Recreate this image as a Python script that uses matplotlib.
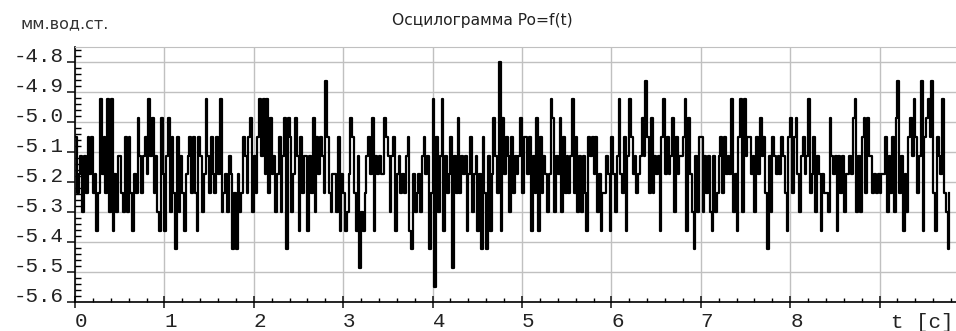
import numpy as np
import matplotlib.pyplot as plt
from matplotlib.ticker import MultipleLocator

# pressure samples, mm water column (one list per ~1.4 s)
p_seg1 = [-5.050, -5.238, -5.175, -5.113, -5.300, -5.113, -5.238, -5.050, -5.175, -5.050,
          -5.238, -5.175, -5.363, -5.238, -4.925, -5.175, -5.050, -5.238, -4.925, -5.300,
          -4.925, -5.363, -5.175, -5.300, -5.113, -5.113, -5.238, -5.300, -5.050, -5.300,
          -5.050, -5.238, -5.363, -5.175, -5.238, -4.988, -5.113, -5.238, -5.113, -5.050,
          -5.175, -4.925, -5.113, -4.988, -5.238, -5.113, -5.300, -5.363, -4.988, -5.175,
          -5.363, -5.113, -4.988, -5.300, -5.050, -5.238, -5.425, -5.050, -5.300, -5.113,
          -5.238, -5.363, -5.175, -5.113, -5.050, -5.238, -5.050, -5.238, -5.363, -5.050]
p_seg2 = [-5.113, -5.300, -5.175, -4.925, -5.113, -5.238, -5.050, -5.175, -5.238, -5.050,
          -5.175, -4.925, -5.300, -5.238, -5.175, -5.300, -5.113, -5.175, -5.425, -5.238,
          -5.425, -5.175, -5.300, -5.238, -5.050, -5.113, -5.238, -5.050, -4.988, -5.300,
          -5.113, -5.238, -5.050, -4.925, -5.113, -4.925, -5.175, -4.925, -5.238, -4.988,
          -5.175, -5.113, -5.300, -5.175, -5.050, -5.300, -5.113, -4.988, -5.425, -4.988,
          -5.050, -5.300, -5.175, -4.988, -5.113, -5.363, -5.050, -5.238, -5.113, -5.113,
          -5.363, -5.113, -5.238, -4.988, -5.300, -5.050, -5.175, -5.050, -5.113, -5.238]
p_seg3 = [-4.863, -5.050, -5.238, -5.300, -5.175, -5.175, -5.300, -5.050, -5.363, -5.175,
          -5.238, -5.363, -5.300, -5.175, -4.988, -5.050, -5.238, -5.363, -5.113, -5.488,
          -5.300, -5.363, -5.238, -5.113, -5.050, -5.175, -4.988, -5.363, -5.113, -5.175,
          -5.113, -5.175, -5.175, -4.988, -5.050, -5.113, -5.300, -5.113, -5.050, -5.363,
          -5.175, -5.113, -5.238, -5.175, -5.238, -5.113, -5.050, -5.363, -5.425, -5.175,
          -5.300, -5.238, -5.175, -5.300, -5.113, -5.050, -5.175, -5.113, -5.425, -5.238,
          -4.925, -5.550, -5.050, -5.300, -5.113, -4.925, -5.363, -5.113, -5.238, -5.175]
p_seg4 = [-5.050, -5.488, -5.113, -5.238, -4.988, -5.238, -5.113, -5.175, -5.113, -5.363,
          -5.175, -5.050, -5.300, -5.175, -5.113, -5.363, -5.175, -5.425, -5.050, -5.238,
          -5.425, -5.113, -5.363, -5.175, -4.988, -5.113, -5.238, -4.800, -5.363, -4.988,
          -5.175, -5.050, -5.113, -5.300, -5.050, -5.238, -5.113, -5.175, -5.113, -4.988,
          -5.238, -5.050, -5.050, -5.175, -5.050, -5.363, -5.113, -5.238, -4.988, -5.363,
          -5.050, -5.238, -5.113, -5.175, -5.300, -5.175, -4.925, -4.988, -5.300, -5.113,
          -5.175, -4.988, -5.300, -5.050, -5.238, -5.113, -5.238, -5.113, -4.925, -5.238]
p_seg5 = [-5.050, -5.300, -5.113, -5.300, -5.113, -5.238, -5.363, -5.050, -5.113, -5.050,
          -5.175, -5.050, -5.300, -5.175, -5.363, -5.238, -5.238, -5.113, -5.175, -5.363,
          -5.050, -5.175, -5.300, -5.113, -4.925, -5.175, -5.238, -5.050, -5.363, -5.113,
          -4.925, -5.050, -5.175, -5.113, -5.238, -5.175, -5.113, -4.988, -5.113, -4.863,
          -5.050, -5.238, -4.988, -5.238, -5.113, -5.175, -5.113, -5.363, -5.050, -4.925,
          -5.175, -5.050, -5.175, -5.113, -4.988, -5.300, -5.050, -5.175, -5.113, -5.113,
          -5.050, -4.925, -5.363, -4.988, -5.175, -5.300, -5.425, -5.113, -5.300, -5.050]
p_seg6 = [-5.050, -5.300, -5.113, -5.238, -5.113, -5.300, -5.363, -5.113, -5.300, -5.238,
          -5.113, -5.050, -5.238, -5.050, -5.175, -5.113, -5.175, -4.925, -5.300, -5.175,
          -5.363, -5.050, -4.925, -5.300, -4.925, -5.113, -5.050, -5.050, -5.175, -5.113,
          -5.300, -5.050, -5.175, -4.988, -5.113, -5.050, -5.238, -5.425, -5.113, -5.300,
          -5.050, -5.113, -5.175, -5.113, -5.175, -5.050, -5.113, -5.238, -5.363, -5.050,
          -4.988, -5.238, -5.050, -4.988, -5.175, -5.300, -5.113, -5.050, -5.175, -5.113,
          -4.925, -5.238, -5.175, -5.050, -5.300, -5.113, -5.175, -5.363, -5.175, -5.238]
p_seg7 = [-5.238, -5.300, -4.988, -5.113, -5.175, -5.113, -5.363, -5.113, -5.238, -5.113,
          -5.300, -5.175, -5.175, -5.113, -5.175, -4.988, -4.925, -5.300, -5.113, -5.300,
          -5.050, -4.988, -5.238, -4.988, -5.113, -5.113, -5.238, -5.175, -5.238, -5.175,
          -5.238, -5.175, -5.175, -5.050, -5.300, -5.113, -5.238, -5.050, -5.300, -4.988,
          -4.863, -5.238, -5.113, -5.363, -5.175, -5.300, -5.050, -4.988, -5.113, -4.925,
          -5.050, -5.238, -5.113, -4.863, -5.363, -5.050, -4.988, -4.925, -5.050, -4.863,
          -5.238, -5.363, -5.050, -5.113, -5.175, -4.925, -5.238, -5.300, -5.425, -5.238]

dt = 0.02  # sampling step, s
yticks = [-5.6, -5.5, -5.4, -5.3, -5.2, -5.1, -5.0, -4.9, -4.8]
ylabels = ['-5.6', '-5.5', '-5.4', '-5.3', '-5.2', '-5.1', '-5.0', '-4.9', '-4.8']
xticks = [0, 1, 2, 3, 4, 5, 6, 7, 8, 9]
xlabels = ['0', '1', '2', '3', '4', '5', '6', '7', '8', '']

p = p_seg1 + p_seg2 + p_seg3 + p_seg4 + p_seg5 + p_seg6 + p_seg7
t = np.arange(len(p)) * dt

fig = plt.figure(figsize=(9.56, 3.31), dpi=100)
ax = fig.add_axes([75/956, 29/331, 881/956, 255/331])
ax.plot(t, p, color='black', lw=1.6, drawstyle='steps-post', zorder=3)

ax.set_xlim(0, 881/89.4)
ax.set_ylim(-5.6, -4.75)
ax.set_xticks(xticks)
ax.set_xticklabels(xlabels, family='Liberation Mono', fontsize=15)
ax.set_yticks(yticks)
ax.set_yticklabels(ylabels, family='Liberation Mono', fontsize=15)
ax.xaxis.set_minor_locator(MultipleLocator(0.2))
ax.yaxis.set_minor_locator(MultipleLocator(0.02))
plt.setp(ax.get_yticklabels(), va='baseline')
plt.setp(ax.get_xticklabels(), ha='left')

ax.grid(True, which='major', color='#c0c0c0', lw=1.0)
ax.spines['right'].set_visible(False)
ax.spines['top'].set_color('#c0c0c0')
ax.spines['left'].set_linewidth(1.2)
ax.spines['bottom'].set_linewidth(1.2)
ax.tick_params(axis='y', which='major', direction='out', length=6, width=1.2, pad=2, colors='#222222')
ax.tick_params(axis='y', which='minor', direction='in', length=4, width=1.0)
ax.tick_params(axis='x', which='major', direction='inout', length=8, width=1.2, pad=3, colors='#222222')
ax.tick_params(axis='x', which='minor', direction='in', length=3, width=1.0)

fig.text(482/956, 1 - 20/331, 'Осцилограмма Po=f(t)', ha='center', va='center',
         family='DejaVu Sans', fontsize=11.2, color='#222222')
fig.text(20/956, 1 - 24/331, 'мм.вод.ст.', ha='left', va='center',
         family='DejaVu Sans', fontsize=11.5, color='#333333')
fig.text(891/956, 3/331, 't [c]', ha='left', va='baseline',
         family='Liberation Mono', fontsize=15, color='#222222')

fig.savefig('out.png', dpi=100)
